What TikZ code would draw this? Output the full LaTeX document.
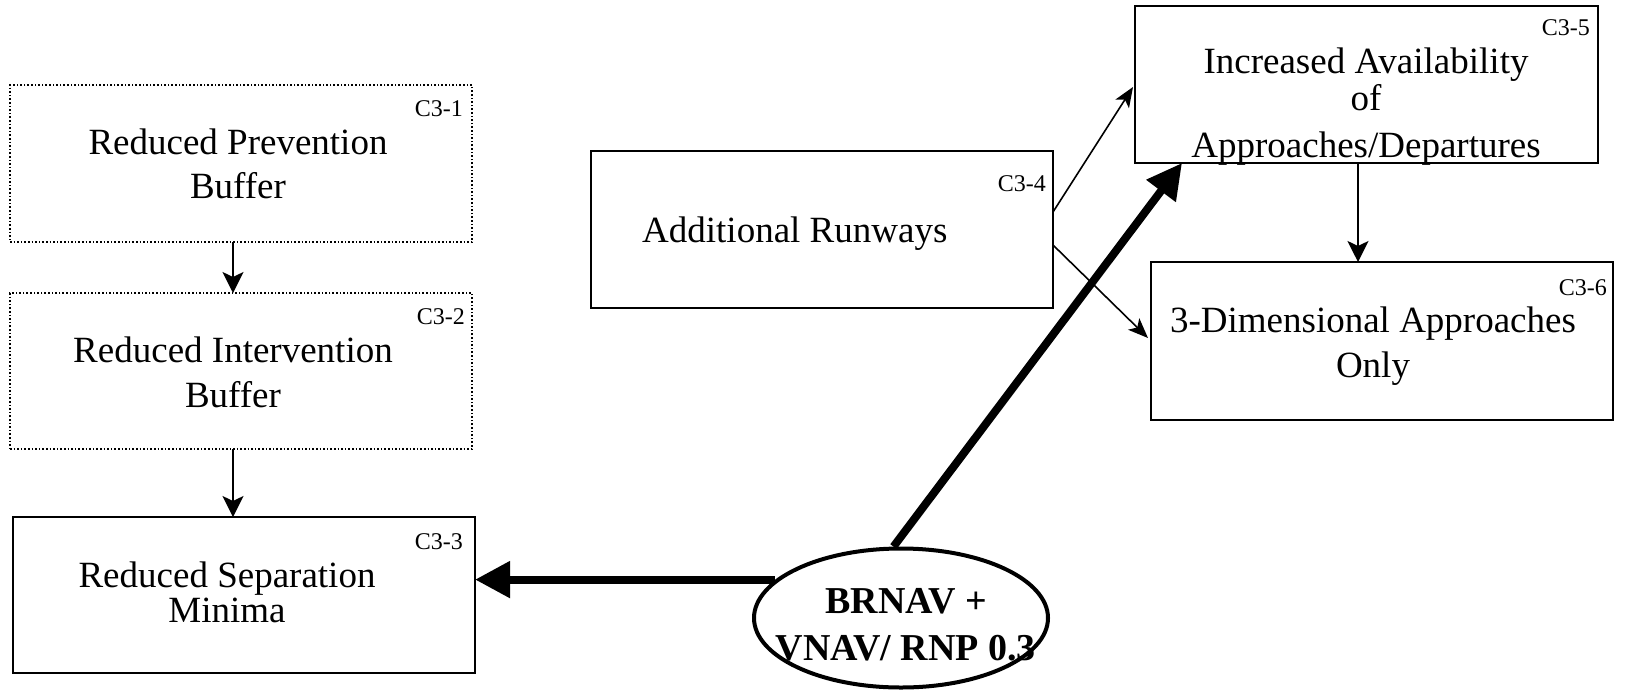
\documentclass[tikz,border=0pt]{standalone}
\usepackage{fontspec}
\setmainfont{Liberation Serif}
\usetikzlibrary{arrows.meta,shapes.geometric,calc}

\tikzset{
  frame/.style={draw, line width=2pt, inner sep=0pt, outer sep=0pt},
  dotframe/.style={draw, dotted, line width=1.6pt, inner sep=0pt, outer sep=0pt},
  boxtext/.style={anchor=base, align=center, inner sep=0pt,
    font=\fontsize{37}{45}\selectfont},
  tag/.style={anchor=base east, inner sep=0pt, font=\fontsize{24}{28}\selectfont},
  thinarrow/.style={line width=2pt, -{Stealth[length=21pt,width=21pt,inset=5pt]}},
  diagarrow/.style={line width=1.6pt, -{Stealth[length=20pt,width=16pt,inset=5pt]}},
  bigarrow/.style={line width=8pt, -{Triangle[length=35pt,width=35pt]}},
}

\begin{document}
\begin{tikzpicture}[x=1pt, y=-1pt]
\useasboundingbox (0,0) rectangle (1625,694);

% left column: buffers and separation minima
\node[dotframe, minimum width=462, minimum height=157] (b1) at (241,163.5) {};
\node[dotframe, minimum width=462, minimum height=156] (b2) at (241,371) {};
\node[frame, minimum width=462, minimum height=156] (b3) at (244,595) {};

% text nodes are placed by the baseline of their last line
\node[boxtext] (t1) at (238,198) {Reduced Prevention\\[-1pt]Buffer};
\node[boxtext] (t2) at (233,407) {Reduced Intervention\\Buffer};
\node[boxtext] (t3) at (227,622) {Reduced Separation\\[-10pt]Minima};

\node[tag] (c1) at (463,116) {C3-1};
\node[tag] (c2) at (465,324) {C3-2};
\node[tag] (c3) at (463,549) {C3-3};

% middle: runways
\node[frame, minimum width=462, minimum height=157] (b4) at (822,229.5) {};
\node[boxtext, anchor=base west] (t4) at (642,242) {Additional Runways};
\node[tag] (c4) at (1046,191) {C3-4};

% right column: approaches
\node[frame, minimum width=463, minimum height=157] (b5) at (1366.5,84.5) {};
\node[frame, minimum width=462, minimum height=158] (b6) at (1382,341) {};

\node[boxtext] (t5) at (1366,157) {Increased Availability\\[-8pt]of\\[2pt]Approaches/Departures};
\node[boxtext] (t6) at (1373,377) {3-Dimensional Approaches\\Only};

\node[tag] (c5) at (1590,35) {C3-5};
\node[tag] (c6) at (1607,295) {C3-6};

% navigation capability
\node[draw, ellipse, line width=4pt, inner sep=0pt,
      minimum width=294, minimum height=139] (ell) at (901,618) {};
\node[anchor=base, align=center, inner sep=0pt,
      font=\fontsize{38}{47}\selectfont\bfseries] (te) at (906,660) {BRNAV +\\VNAV/ RNP 0.3};

% dependencies
\draw[thinarrow] ([xshift=-8pt]b1.south) -- ([xshift=-8pt]b1.south |- b2.north);
\draw[thinarrow] ([xshift=-8pt]b2.south) -- ([xshift=-8pt]b2.south |- b3.north);
\draw[thinarrow] ([xshift=-8.5pt]b5.south) -- ([xshift=-8.5pt]b5.south |- b6.north);
\draw[diagarrow] ($(b4.east)+(0,-17.5)$) -- ($(b5.west)+(-2,2.5)$);
\draw[diagarrow] ($(b4.east)+(0,15.5)$) -- ($(b6.west)+(-3,-3)$);

\draw[bigarrow] (ell.163) -- (ell.163 -| b3.east);
\draw[bigarrow] (ell.96) -- ($(b5.south west)+(47,0)$);
\end{tikzpicture}
\end{document}
